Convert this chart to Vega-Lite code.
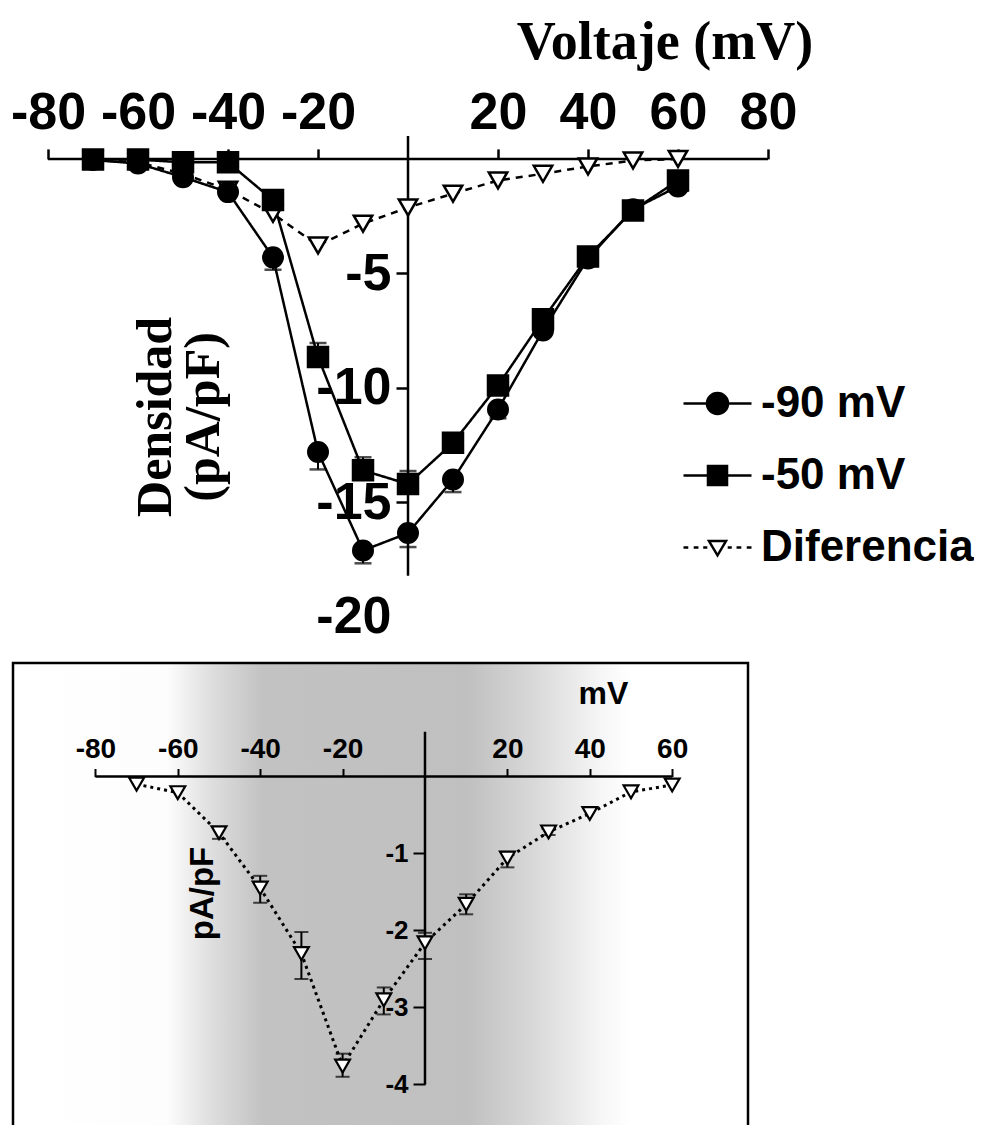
{
  "$schema": "https://vega.github.io/schema/vega-lite/v6.json",
  "background": "white",
  "padding": {"left": 10, "top": 15, "right": 0, "bottom": 0},
  "autosize": {"type": "pad"},
  "spacing": 18,
  "resolve": {"scale": {"shape": "independent"}, "legend": {"shape": "independent"}},
  "config": {
    "view": {"stroke": null},
    "axis": {"grid": false, "domainColor": "black", "tickColor": "black", "labelColor": "black", "titleColor": "black", "labelOverlap": false, "labelFlush": false}
  },
  "datasets": {
    "top": [
      {"v": -70, "s": "Diferencia", "i": -0.05, "e": null},
      {"v": -60, "s": "Diferencia", "i": -0.15, "e": null},
      {"v": -50, "s": "Diferencia", "i": -0.65, "e": null},
      {"v": -40, "s": "Diferencia", "i": -1.35, "e": null},
      {"v": -30, "s": "Diferencia", "i": -2.4, "e": null},
      {"v": -20, "s": "Diferencia", "i": -3.78, "e": null},
      {"v": -10, "s": "Diferencia", "i": -2.83, "e": null},
      {"v": 0, "s": "Diferencia", "i": -2.12, "e": null},
      {"v": 10, "s": "Diferencia", "i": -1.52, "e": null},
      {"v": 20, "s": "Diferencia", "i": -0.94, "e": null},
      {"v": 30, "s": "Diferencia", "i": -0.65, "e": null},
      {"v": 40, "s": "Diferencia", "i": -0.33, "e": null},
      {"v": 50, "s": "Diferencia", "i": -0.07, "e": null},
      {"v": 60, "s": "Diferencia", "i": 0.0, "e": null},
      {"v": -70, "s": "-50 mV", "i": -0.03, "e": null},
      {"v": -60, "s": "-50 mV", "i": -0.03, "e": null},
      {"v": -50, "s": "-50 mV", "i": -0.15, "e": null},
      {"v": -40, "s": "-50 mV", "i": -0.15, "e": null},
      {"v": -30, "s": "-50 mV", "i": -1.8, "e": null},
      {"v": -20, "s": "-50 mV", "i": -8.65, "e": -8.04},
      {"v": -10, "s": "-50 mV", "i": -13.6, "e": -13.03},
      {"v": 0, "s": "-50 mV", "i": -14.2, "e": -13.63},
      {"v": 10, "s": "-50 mV", "i": -12.4, "e": -12.0},
      {"v": 20, "s": "-50 mV", "i": -9.9, "e": -9.6},
      {"v": 30, "s": "-50 mV", "i": -7.0, "e": -6.8},
      {"v": 40, "s": "-50 mV", "i": -4.26, "e": null},
      {"v": 50, "s": "-50 mV", "i": -2.25, "e": null},
      {"v": 60, "s": "-50 mV", "i": -0.94, "e": null},
      {"v": -70, "s": "-90 mV", "i": -0.05, "e": null},
      {"v": -60, "s": "-90 mV", "i": -0.2, "e": null},
      {"v": -50, "s": "-90 mV", "i": -0.8, "e": null},
      {"v": -40, "s": "-90 mV", "i": -1.45, "e": null},
      {"v": -30, "s": "-90 mV", "i": -4.3, "e": -4.84},
      {"v": -20, "s": "-90 mV", "i": -12.8, "e": -13.56},
      {"v": -10, "s": "-90 mV", "i": -17.1, "e": -17.66},
      {"v": 0, "s": "-90 mV", "i": -16.34, "e": -16.95},
      {"v": 10, "s": "-90 mV", "i": -14.0, "e": -14.55},
      {"v": 20, "s": "-90 mV", "i": -10.94, "e": -11.33},
      {"v": 30, "s": "-90 mV", "i": -7.49, "e": -7.75},
      {"v": 40, "s": "-90 mV", "i": -4.35, "e": -4.55},
      {"v": 50, "s": "-90 mV", "i": -2.2, "e": null},
      {"v": 60, "s": "-90 mV", "i": -1.2, "e": null}
    ],
    "inset": [
      {"v": -70, "d": -0.10, "lo": null, "hi": null},
      {"v": -60, "d": -0.21, "lo": null, "hi": null},
      {"v": -50, "d": -0.73, "lo": -0.81, "hi": -0.66},
      {"v": -40, "d": -1.45, "lo": -1.64, "hi": -1.29},
      {"v": -30, "d": -2.30, "lo": -2.63, "hi": -2.02},
      {"v": -20, "d": -3.76, "lo": -3.90, "hi": -3.60},
      {"v": -10, "d": -2.90, "lo": -3.09, "hi": -2.74},
      {"v": 0, "d": -2.16, "lo": -2.37, "hi": -2.03},
      {"v": 10, "d": -1.66, "lo": -1.79, "hi": -1.53},
      {"v": 20, "d": -1.06, "lo": -1.18, "hi": -0.98},
      {"v": 30, "d": -0.72, "lo": -0.76, "hi": -0.68},
      {"v": 40, "d": -0.48, "lo": null, "hi": null},
      {"v": 50, "d": -0.20, "lo": null, "hi": null},
      {"v": 60, "d": -0.11, "lo": null, "hi": null}
    ]
  },
  "vconcat": [
    {
      "width": 755,
      "height": 480.9,
      "data": {"name": "top"},
      "layer": [
        {
          "data": {"values": [{}]},
          "mark": {"type": "rule", "color": "black", "strokeWidth": 2.5},
          "encoding": {
            "x": {
              "datum": -80, "type": "quantitative",
              "scale": {"domain": [-87.78, 80], "nice": false, "zero": false},
              "axis": {
                "orient": "top", "offset": -22.9, "domain": false,
                "values": [-80, -60, -40, -20, 20, 40, 60, 80],
                "labelExpr": "'' + datum.value",
                "tickSize": 10, "tickWidth": 2.5,
                "labelFont": "Liberation Sans", "labelFontWeight": "bold", "labelFontSize": 52, "labelPadding": 9,
                "title": "Voltaje (mV)", "titleFont": "Liberation Serif", "titleFontWeight": "bold", "titleFontSize": 54,
                "titleX": 651.5, "titleY": -100.5, "titleAlign": "center", "titleBaseline": "alphabetic", "titleAngle": 0
              }
            },
            "x2": {"datum": 80},
            "y": {
              "datum": 0, "type": "quantitative",
              "scale": {"domain": [-20, 1], "nice": false, "zero": false},
              "axis": {
                "orient": "left", "offset": -395, "domain": false,
                "values": [-5, -10, -15, -20],
                "labelExpr": "'' + datum.value",
                "tickSize": 12, "tickWidth": 2.5,
                "tickOpacity": {"expr": "datum.value == -20 ? 0 : 1"},
                "labelFont": "Liberation Sans", "labelFontWeight": "bold", "labelFontSize": 52, "labelPadding": 5,
                "title": ["Densidad", "(pA/pF)"], "titleFont": "Liberation Serif", "titleFontWeight": "bold", "titleFontSize": 50,
                "titleLineHeight": 48,
                "titleX": -253, "titleY": 280.4, "titleAngle": 270, "titleAlign": "center", "titleBaseline": "middle"
              }
            }
          }
        },
        {
          "data": {"values": [{}]},
          "mark": {"type": "rule", "color": "black", "strokeWidth": 2.5},
          "encoding": {
            "x": {"datum": 0, "type": "quantitative"},
            "y": {"datum": 1, "type": "quantitative"},
            "y2": {"datum": -18.2}
          }
        },
        {
          "transform": [{"filter": "datum.e != null"}],
          "mark": {"type": "rule", "color": "black", "strokeWidth": 2},
          "encoding": {
            "x": {"field": "v", "type": "quantitative"},
            "y": {"field": "i", "type": "quantitative"},
            "y2": {"field": "e"}
          }
        },
        {
          "transform": [{"filter": "datum.e != null"}],
          "mark": {"type": "tick", "orient": "horizontal", "color": "black", "size": 17, "thickness": 2.5},
          "encoding": {
            "x": {"field": "v", "type": "quantitative"},
            "y": {"field": "e", "type": "quantitative"}
          }
        },
        {
          "mark": {"type": "line", "color": "black", "strokeWidth": 2.5},
          "encoding": {
            "x": {"field": "v", "type": "quantitative"},
            "y": {"field": "i", "type": "quantitative"},
            "detail": {"field": "s", "type": "nominal"},
            "strokeDash": {"condition": {"test": "datum.s === 'Diferencia'", "value": [7, 6]}, "value": [1, 0]}
          }
        },
        {
          "mark": {"type": "point", "filled": false, "color": "black", "strokeWidth": 2.5, "opacity": 0},
          "encoding": {
            "x": {"field": "v", "type": "quantitative"},
            "y": {"field": "i", "type": "quantitative"},
            "shape": {
              "field": "s", "type": "nominal",
              "scale": {
                "domain": ["-90 mV", "-50 mV", "Diferencia"],
                "range": [
                  "M-1,0H1M0.31,0A0.31,0.31,0,1,1,-0.31,0A0.31,0.31,0,1,1,0.31,0M0.24,0A0.24,0.24,0,1,1,-0.24,0A0.24,0.24,0,1,1,0.24,0M0.17,0A0.17,0.17,0,1,1,-0.17,0A0.17,0.17,0,1,1,0.17,0M0.1,0A0.1,0.1,0,1,1,-0.1,0A0.1,0.1,0,1,1,0.1,0M0.03,0A0.03,0.03,0,1,1,-0.03,0A0.03,0.03,0,1,1,0.03,0",
                  "M-1,0H1M-0.28,-0.28H0.28V0.28H-0.28ZM-0.21,-0.21H0.21V0.21H-0.21ZM-0.14,-0.14H0.14V0.14H-0.14ZM-0.07,-0.07H0.07V0.07H-0.07Z",
                  "M-1,0H-0.86M-0.7,0H-0.56M-0.42,0H-0.3M0.3,0H0.42M0.56,0H0.7M0.86,0H1M-0.25,-0.19L0.25,-0.19L0,0.23Z"
                ]
              },
              "legend": {
                "orient": "none", "legendX": 669, "legendY": 232, "title": null,
                "symbolSize": 4624, "symbolStrokeWidth": 2.5, "symbolStrokeColor": "black", "symbolOpacity": 1,
                "labelFont": "Liberation Sans", "labelFontWeight": "bold", "labelFontSize": 44, "labelColor": "black",
                "labelOffset": 8, "labelLimit": 400, "rowPadding": 14
              }
            }
          }
        },
        {
          "mark": {"type": "point", "filled": true, "stroke": "black", "strokeWidth": 2.5, "opacity": 1},
          "encoding": {
            "x": {"field": "v", "type": "quantitative"},
            "y": {"field": "i", "type": "quantitative"},
            "shape": {"condition": [{"test": "datum.s === '-90 mV'", "value": "circle"}, {"test": "datum.s === '-50 mV'", "value": "square"}], "value": "triangle-down"},
            "fill": {"condition": {"test": "datum.s === 'Diferencia'", "value": "white"}, "value": "black"},
            "size": {"condition": [{"test": "datum.s === '-90 mV'", "value": 380}, {"test": "datum.s === '-50 mV'", "value": 400}], "value": 340}
          }
        }
      ]
    },
    {
      "width": 735,
      "height": 478,
      "view": {
        "stroke": "black", "strokeWidth": 2.5,
        "fill": {
          "gradient": "linear", "x1": 0, "y1": 0, "x2": 1, "y2": 0,
          "stops": [
            {"offset": 0, "color": "#ffffff"},
            {"offset": 0.21, "color": "#fdfdfd"},
            {"offset": 0.27, "color": "#dedede"},
            {"offset": 0.34, "color": "#c2c2c2"},
            {"offset": 0.62, "color": "#c0c0c0"},
            {"offset": 0.71, "color": "#d9d9d9"},
            {"offset": 0.8, "color": "#f6f6f6"},
            {"offset": 0.84, "color": "#ffffff"},
            {"offset": 1, "color": "#ffffff"}
          ]
        }
      },
      "data": {"name": "inset"},
      "layer": [
        {
          "data": {"values": [{}]},
          "mark": {"type": "rule", "color": "black", "strokeWidth": 2.5},
          "encoding": {
            "x": {
              "datum": -80, "type": "quantitative",
              "scale": {"domain": [-100, 78.4], "nice": false, "zero": false},
              "axis": {
                "orient": "top", "offset": -113.5, "domain": false,
                "values": [-80, -60, -40, -20, 20, 40, 60],
                "labelExpr": "'' + datum.value",
                "tickSize": 8, "tickWidth": 2,
                "labelFont": "Liberation Sans", "labelFontWeight": "bold", "labelFontSize": 28, "labelPadding": 5,
                "title": "mV", "titleFont": "Liberation Sans", "titleFontWeight": "bold", "titleFontSize": 32,
                "titleX": 590, "titleY": -83.5, "titleAlign": "center", "titleBaseline": "middle", "titleAngle": 0
              }
            },
            "x2": {"datum": 60},
            "y": {
              "datum": 0, "type": "quantitative",
              "scale": {"domain": [-4.734, 1.474], "nice": false, "zero": false},
              "axis": {
                "orient": "left", "offset": -412, "domain": false,
                "values": [-1, -2, -3, -4],
                "labelExpr": "'' + datum.value",
                "tickSize": 12, "tickWidth": 2,
                "labelFont": "Liberation Sans", "labelFontWeight": "bold", "labelFontSize": 26, "labelPadding": 5,
                "title": "pA/pF", "titleFont": "Liberation Sans", "titleFontWeight": "bold", "titleFontSize": 33,
                "titleX": -223, "titleY": 230, "titleAngle": 270, "titleAlign": "center", "titleBaseline": "middle"
              }
            }
          }
        },
        {
          "data": {"values": [{}]},
          "mark": {"type": "rule", "color": "black", "strokeWidth": 2.5},
          "encoding": {
            "x": {"datum": 0, "type": "quantitative"},
            "y": {"datum": 0.58, "type": "quantitative"},
            "y2": {"datum": -4}
          }
        },
        {
          "transform": [{"filter": "datum.lo != null"}],
          "mark": {"type": "rule", "color": "black", "strokeWidth": 2},
          "encoding": {
            "x": {"field": "v", "type": "quantitative"},
            "y": {"field": "lo", "type": "quantitative"},
            "y2": {"field": "hi"}
          }
        },
        {
          "transform": [{"filter": "datum.lo != null"}],
          "mark": {"type": "tick", "orient": "horizontal", "color": "black", "size": 14, "thickness": 2},
          "encoding": {
            "x": {"field": "v", "type": "quantitative"},
            "y": {"field": "lo", "type": "quantitative"}
          }
        },
        {
          "transform": [{"filter": "datum.hi != null"}],
          "mark": {"type": "tick", "orient": "horizontal", "color": "black", "size": 14, "thickness": 2},
          "encoding": {
            "x": {"field": "v", "type": "quantitative"},
            "y": {"field": "hi", "type": "quantitative"}
          }
        },
        {
          "mark": {"type": "line", "color": "black", "strokeWidth": 3, "strokeDash": [3, 4]},
          "encoding": {
            "x": {"field": "v", "type": "quantitative"},
            "y": {"field": "d", "type": "quantitative"}
          }
        },
        {
          "mark": {"type": "point", "shape": "triangle-down", "filled": true, "fill": "white", "stroke": "black", "strokeWidth": 2.2, "size": 220, "opacity": 1},
          "encoding": {
            "x": {"field": "v", "type": "quantitative"},
            "y": {"field": "d", "type": "quantitative"}
          }
        }
      ]
    }
  ]
}
